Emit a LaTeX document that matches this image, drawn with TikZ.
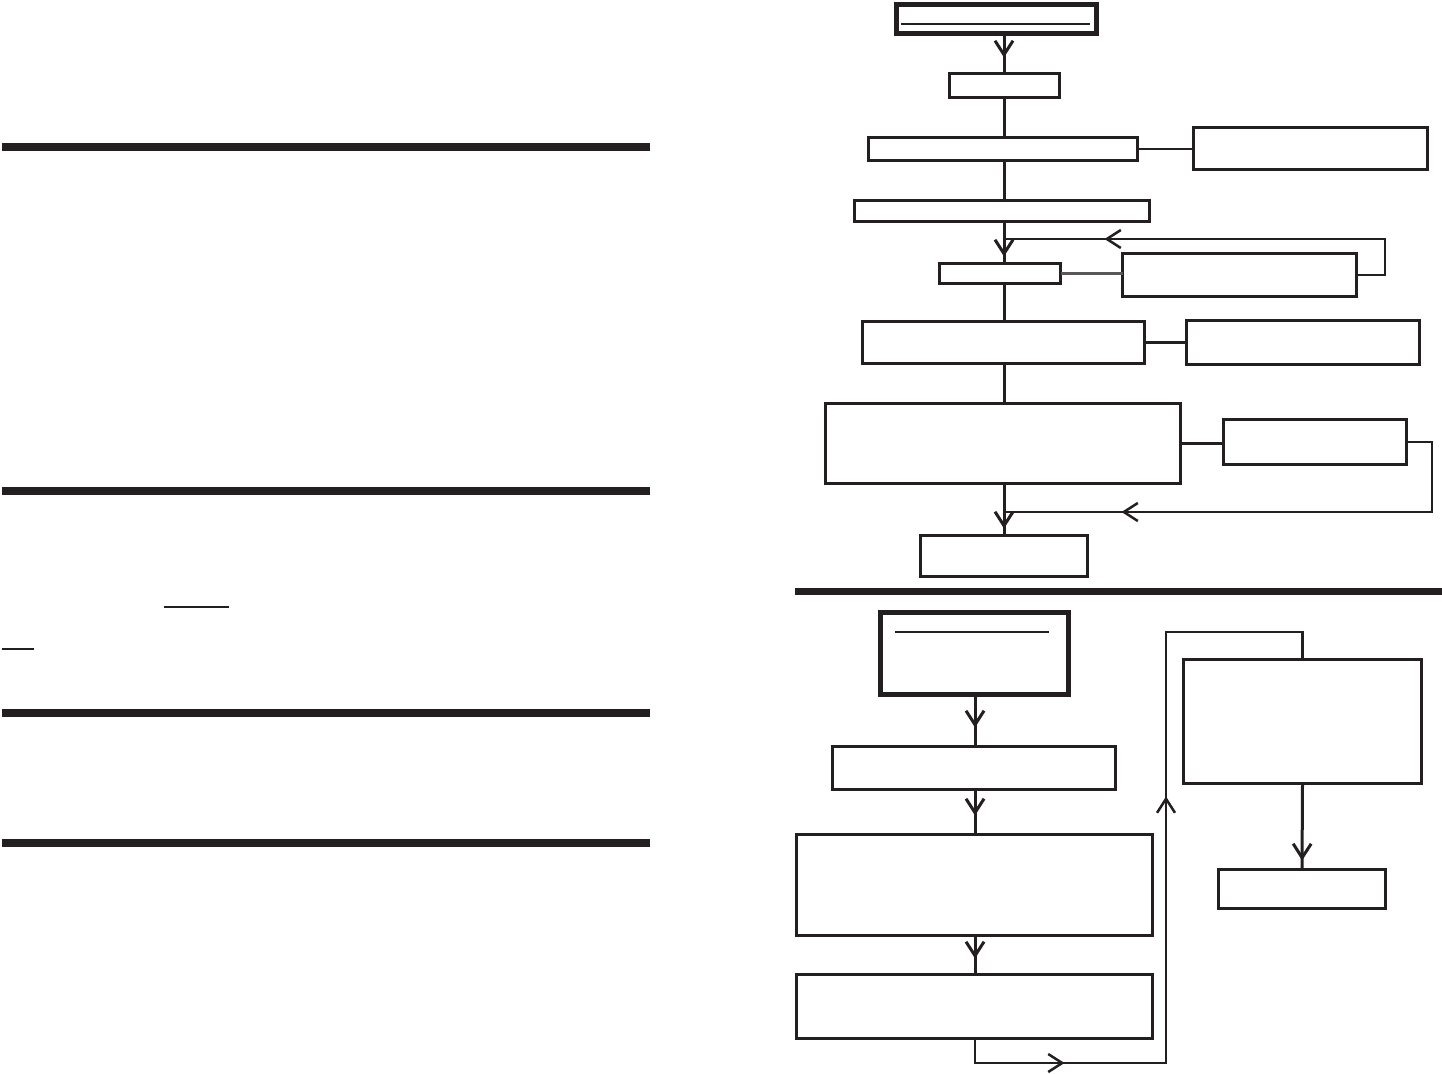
\documentclass[tikz,border=0pt]{standalone}
\usetikzlibrary{arrows.meta,decorations.markings}
\definecolor{ink}{HTML}{231F20}
\tikzset{
  bv/.tip={Straight Barb[length=14pt,width=18pt]},
  box/.style={draw=ink, line width=3pt, rectangle, inner sep=0pt, outer sep=0pt},
  thickbox/.style={box, line width=5pt},
  conn/.style={draw=ink, line width=3pt},
  thinconn/.style={draw=ink, line width=1.5pt},
  loopconn/.style={draw=ink, line width=2.5pt},
  rule/.style={draw=ink, line width=8pt},
  uline/.style={draw=ink, line width=1.5pt},
  tipat/.style={postaction={decorate,decoration={markings,mark=at position #1 with {\arrow{bv}}}}}
}
\begin{document}
\begin{tikzpicture}[x=1pt,y=-1pt]
\useasboundingbox[fill=white] (0,0) rectangle (1442,1073);

% ---------- left column rules ----------
\coordinate (r1a) at (2,147);   \coordinate (r1b) at (650,147);
\coordinate (r2a) at (2,491);   \coordinate (r2b) at (650,491);
\coordinate (r3a) at (2,713);   \coordinate (r3b) at (650,713);
\coordinate (r4a) at (2,843);   \coordinate (r4b) at (650,843);
\draw[rule] (r1a) -- (r1b);
\draw[rule] (r2a) -- (r2b);
\draw[rule] (r3a) -- (r3b);
\draw[rule] (r4a) -- (r4b);
\coordinate (u1a) at (164,607); \coordinate (u1b) at (229,607);
\coordinate (u2a) at (2,649);   \coordinate (u2b) at (34,649);
\draw[uline] (u1a) -- (u1b);
\draw[uline] (u2a) -- (u2b);

% ---------- upper flow chart ----------
\node[thickbox, minimum width=200pt, minimum height=29pt] (T0) at (996.5,19) {};
\coordinate (t0la) at (901,24); \coordinate (t0lb) at (1090,24);
\draw[uline] (t0la) -- (t0lb);

\node[box, minimum width=110pt, minimum height=24pt] (B1) at (1004.5,85.5) {};
\node[box, minimum width=269pt, minimum height=23pt] (B2) at (1003,149) {};
\node[box, minimum width=234pt, minimum height=42pt] (R1) at (1310.5,148.5) {};
\node[box, minimum width=295pt, minimum height=21pt] (B3) at (1002,211) {};
\node[box, minimum width=121pt, minimum height=20pt] (B4) at (1000,273.5) {};
\node[box, minimum width=234pt, minimum height=43pt] (R2) at (1239.5,275) {};
\node[box, minimum width=282pt, minimum height=42pt] (B5) at (1003.5,342.5) {};
\node[box, minimum width=233pt, minimum height=44pt] (R3) at (1303,342.5) {};
\node[box, minimum width=355pt, minimum height=80pt] (B6) at (1003,443.5) {};
\node[box, minimum width=183pt, minimum height=45pt] (R4) at (1315,442) {};
\node[box, minimum width=167pt, minimum height=41pt] (B7) at (1004,556) {};

\coordinate (sp) at (1004,0);
\coordinate (l1) at (1385,239);
\coordinate (l2) at (1432,512);

\draw[conn, tipat=24pt] (sp |- T0.south) -- (sp |- B1.north);
\draw[conn] (sp |- B1.south) -- (sp |- B2.north);
\draw[thinconn] (B2.east) -- (B2.east -| R1.west);
\draw[conn] (sp |- B2.south) -- (sp |- B3.north);
\draw[conn, tipat=35pt] (sp |- B3.south) -- (sp |- B4.north);
\draw[loopconn, tipat=345pt] (R2.east) -- (l1 |- R2.east) -- (l1) -- (sp |- l1);
\draw[draw=ink!75, line width=2.5pt] (B4.east) -- (B4.east -| R2.west);
\draw[conn] (sp |- B4.south) -- (sp |- B5.north);
\draw[conn] (B5.east) -- (B5.east -| R3.west);
\draw[conn] (sp |- B5.south) -- (sp |- B6.north);
\draw[conn] (B6.east) -- (B6.east -| R4.west);
\draw[loopconn, tipat=406pt] (R4.east) -- (l2 |- R4.east) -- (l2) -- (sp |- l2);
\draw[conn, tipat=45pt] (sp |- B6.south) -- (sp |- B7.north);

% ---------- separator ----------
\coordinate (s1) at (795,591); \coordinate (s2) at (1442,591);
\draw[draw=ink, line width=7pt] (s1) -- (s2);

% ---------- lower flow chart ----------
\node[thickbox, minimum width=188pt, minimum height=82pt] (T1) at (974.5,653.5) {};
\coordinate (t1la) at (895,632); \coordinate (t1lb) at (1049,632);
\draw[uline] (t1la) -- (t1lb);

\node[box, minimum width=283pt, minimum height=43pt] (B8) at (974,768) {};
\node[box, minimum width=356pt, minimum height=101pt] (B9) at (974.5,885) {};
\node[box, minimum width=356pt, minimum height=64pt] (B10) at (974.5,1006.5) {};
\node[box, minimum width=238pt, minimum height=124pt] (R5) at (1302.5,721.5) {};
\node[box, minimum width=167pt, minimum height=39pt] (R6) at (1302,889) {};

\coordinate (sq) at (975,0);
\coordinate (m1) at (1166,1063);
\coordinate (m2) at (1166,632);

\draw[conn, tipat=33pt] (sq |- T1.south) -- (sq |- B8.north);
\draw[conn, tipat=26pt] (sq |- B8.south) -- (sq |- B9.north);
\draw[conn, tipat=23pt] (sq |- B9.south) -- (sq |- B10.north);
\draw[loopconn, tipat=114pt, tipat=482pt] (sq |- B10.south) -- (sq |- m1) -- (m1) -- (m2) -- (m2 -| R5.north) -- (R5.north);
\draw[conn, tipat=77pt] (R5.south) -- (R6.north);
\end{tikzpicture}
\end{document}
